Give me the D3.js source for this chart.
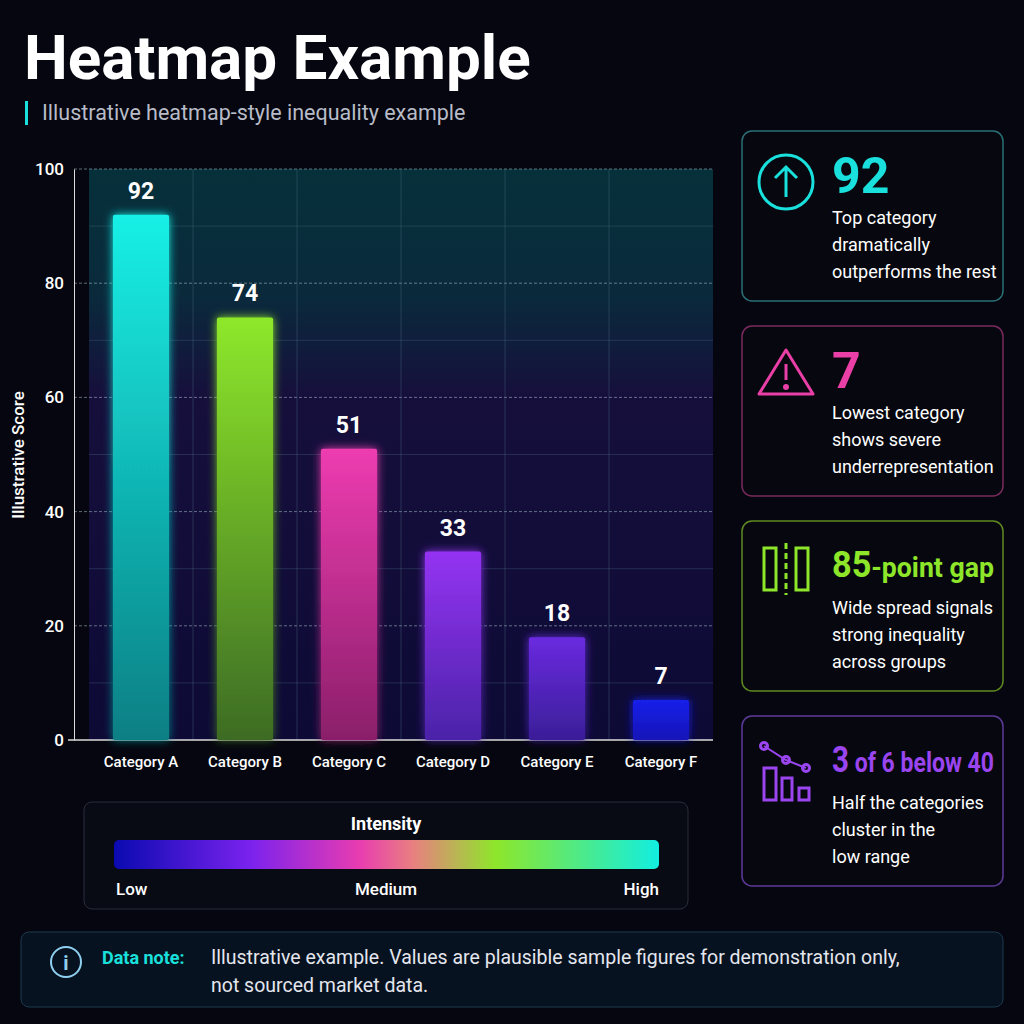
<!DOCTYPE html>
<html><head><meta charset="utf-8">
<script src="https://cdn.jsdelivr.net/npm/d3@7"></script>
<style>body{margin:0;background:#05060f}svg{display:block}</style>
</head><body><svg id="chart" width="1024" height="1024"></svg>
<script>
const categories = ["Category A","Category B","Category C","Category D","Category E","Category F"];
const values = [92, 74, 51, 33, 18, 7];
const barTop = ["#16f0e6","#8ee82a","#ee3cb0","#9433f2","#6a2ae0","#1520e8"];
const barBottom = ["#0c7f84","#3d6b24","#8a1f6a","#4a23a8","#3a1e98","#1414b8"];
const yTicks = [0,20,40,60,80,100];

const cards = [
  {big:"92", small:"", lines:["Top category","dramatically","outperforms the rest"], color:"#19e0dc", border:"#2a6f76", icon:"up"},
  {big:"7", small:"", lines:["Lowest category","shows severe","underrepresentation"], color:"#e93fa6", border:"#7a2a5e", icon:"warn"},
  {big:"85", small:"-point gap", lines:["Wide spread signals","strong inequality","across groups"], color:"#8ee62a", border:"#5f8a22", icon:"gap"},
  {big:"3", small:" of 6 below 40", lines:["Half the categories","cluster in the","low range"], color:"#9a45f0", border:"#5d3a9a", icon:"trend"}
];

const svg = d3.select("#chart");
const defs = svg.append("defs");
const font = "Roboto, 'DejaVu Sans', sans-serif";

svg.append("rect").attr("width",1024).attr("height",1024).attr("fill","#05060f");

// title
svg.append("text").attr("x",24).attr("y",79).attr("fill","#fff")
  .attr("font-family",font).attr("font-weight",700).attr("font-size",62).text("Heatmap Example");
svg.append("rect").attr("x",25).attr("y",101).attr("width",3).attr("height",24).attr("fill","#19e0dc");
svg.append("text").attr("x",42).attr("y",120).attr("fill","#b8bcc8")
  .attr("font-family",font).attr("font-size",21.5).text("Illustrative heatmap-style inequality example");

// scales
const x = d3.scaleBand().domain(categories).range([89, 713]).paddingInner(0.46).paddingOuter(0.23);
const y = d3.scaleLinear().domain([0,100]).range([740,169]);

// plot background
const bg = defs.append("linearGradient").attr("id","bg").attr("x1",0).attr("y1",0).attr("x2",0).attr("y2",1);
bg.append("stop").attr("offset","0%").attr("stop-color","#06303a");
bg.append("stop").attr("offset","22%").attr("stop-color","#0a2a3c");
bg.append("stop").attr("offset","40%").attr("stop-color","#160f3c");
bg.append("stop").attr("offset","100%").attr("stop-color","#0d0a36");
svg.append("rect").attr("x",89).attr("y",y(100)).attr("width",624).attr("height",y(0)-y(100)).attr("fill","url(#bg)");

// grid
const g = svg.append("g");
g.selectAll(".minor").data(d3.range(10,100,20)).join("line")
  .attr("x1",89).attr("x2",713).attr("y1",d=>y(d)).attr("y2",d=>y(d))
  .attr("stroke","#4a6a80").attr("stroke-opacity",0.35);
g.selectAll(".major").data(yTicks.slice(1)).join("line")
  .attr("x1",74).attr("x2",713).attr("y1",d=>y(d)).attr("y2",d=>y(d))
  .attr("stroke","#9ab0c0").attr("stroke-opacity",0.6).attr("stroke-dasharray","3,2");
g.selectAll(".vert").data(categories.slice(1)).join("line")
  .attr("x1",d=>x(d)-x.step()*x.paddingInner()/2).attr("x2",d=>x(d)-x.step()*x.paddingInner()/2)
  .attr("y1",y(100)).attr("y2",y(0)).attr("stroke","#4a6a80").attr("stroke-opacity",0.4);

// y axis
const yAxis = svg.append("g").attr("transform","translate(74,0)")
  .call(d3.axisLeft(y).tickValues(yTicks).tickSize(0).tickPadding(10));
yAxis.select(".domain").attr("stroke","#ddd");
yAxis.selectAll("text").attr("fill","#fff").attr("font-family",font).attr("font-weight",500).attr("font-size",17);
svg.append("line").attr("x1",68).attr("x2",713).attr("y1",y(0)).attr("y2",y(0)).attr("stroke","#ddd").attr("stroke-width",1.5);
svg.append("text").attr("transform","translate(24,455) rotate(-90)").attr("text-anchor","middle")
  .attr("fill","#fff").attr("font-family",font).attr("font-weight",500).attr("font-size",17).text("Illustrative Score");

// x axis labels
const xAxis = svg.append("g").attr("transform",`translate(0,${y(0)})`)
  .call(d3.axisBottom(x).tickSize(0).tickPadding(16));
xAxis.select(".domain").remove();
xAxis.selectAll("text").attr("fill","#fff").attr("font-family",font).attr("font-weight",500).attr("font-size",15);

// bars
const glow = defs.append("filter").attr("id","glow").attr("x","-50%").attr("y","-50%").attr("width","200%").attr("height","200%");
glow.append("feGaussianBlur").attr("stdDeviation",5).attr("result","b");
const fm = glow.append("feMerge"); fm.append("feMergeNode").attr("in","b"); fm.append("feMergeNode").attr("in","SourceGraphic");
categories.forEach((c,i)=>{
  const lg = defs.append("linearGradient").attr("id","bar"+i).attr("x1",0).attr("y1",0).attr("x2",0).attr("y2",1);
  lg.append("stop").attr("offset","0%").attr("stop-color",barTop[i]);
  lg.append("stop").attr("offset","100%").attr("stop-color",barBottom[i]);
});
svg.append("g").selectAll("rect").data(values).join("rect")
  .attr("x",(d,i)=>x(categories[i])).attr("width",x.bandwidth())
  .attr("y",d=>y(d)).attr("height",d=>y(0)-y(d)).attr("rx",2)
  .attr("fill",(d,i)=>`url(#bar${i})`).attr("filter","url(#glow)");
svg.append("g").selectAll("text").data(values).join("text")
  .attr("x",(d,i)=>x(categories[i])+x.bandwidth()/2).attr("y",d=>y(d)-16)
  .attr("text-anchor","middle").attr("fill","#fff").attr("font-family",font)
  .attr("font-weight",700).attr("font-size",23).text(d=>d);

// intensity legend
svg.append("rect").attr("x",84).attr("y",802).attr("width",604).attr("height",107).attr("rx",8)
  .attr("fill","#080a14").attr("stroke","#2a2e3c");
svg.append("text").attr("x",386).attr("y",830).attr("text-anchor","middle").attr("fill","#fff")
  .attr("font-family",font).attr("font-weight",700).attr("font-size",18).text("Intensity");
const lgd = defs.append("linearGradient").attr("id","leg");
[["0%","#0a0ab0"],["25%","#7a22ee"],["45%","#e83cb0"],["55%","#e88080"],["70%","#8ee62a"],["100%","#12eee0"]]
  .forEach(s=>lgd.append("stop").attr("offset",s[0]).attr("stop-color",s[1]));
svg.append("rect").attr("x",114).attr("y",840).attr("width",545).attr("height",29).attr("rx",5).attr("fill","url(#leg)");
[["Low",116,"start"],["Medium",386,"middle"],["High",659,"end"]].forEach(t=>
  svg.append("text").attr("x",t[1]).attr("y",895).attr("text-anchor",t[2]).attr("fill","#fff")
    .attr("font-family",font).attr("font-weight",500).attr("font-size",17).text(t[0]));

// cards
cards.forEach((c,i)=>{
  const top = 131 + i*195;
  const cg = svg.append("g").attr("transform",`translate(742,${top})`);
  cg.append("rect").attr("width",261).attr("height",170).attr("rx",10).attr("fill","#07080f").attr("stroke",c.border).attr("stroke-width",1.5);
  const t = cg.append("text").attr("x",90).attr("y",62).attr("fill",c.color).attr("font-family",font).attr("font-weight",700);
  if (c.small) {
    t.attr("y",56).attr("textLength",162).attr("lengthAdjust","spacingAndGlyphs");
    t.append("tspan").attr("font-size",36).text(c.big);
    t.append("tspan").attr("font-size",28).text(c.small);
  } else {
    t.append("tspan").attr("font-size",50).text(c.big);
  }
  c.lines.forEach((l,j)=>cg.append("text").attr("x",90).attr("y",93+j*27).attr("fill","#fff")
    .attr("font-family",font).attr("font-size",18).text(l));
  const ic = cg.append("g").attr("fill","none").attr("stroke",c.color).attr("stroke-width",3);
  if (c.icon==="up") {
    ic.append("circle").attr("cx",44).attr("cy",51).attr("r",27);
    ic.append("path").attr("d","M44 66V36M33 47L44 36L55 47");
  } else if (c.icon==="warn") {
    ic.append("path").attr("d","M44 24L71 68H17Z").attr("stroke-linejoin","round");
    ic.append("path").attr("d","M44 38V54");
    ic.append("circle").attr("cx",44).attr("cy",61).attr("r",1.5).attr("fill",c.color);
  } else if (c.icon==="gap") {
    ic.append("rect").attr("x",22).attr("y",27).attr("width",12).attr("height",42);
    ic.append("rect").attr("x",54).attr("y",27).attr("width",12).attr("height",42);
    ic.append("path").attr("d","M44 22V74").attr("stroke-dasharray","6,4");
  } else {
    ic.append("rect").attr("x",22).attr("y",52).attr("width",12).attr("height",32);
    ic.append("rect").attr("x",40).attr("y",62).attr("width",10).attr("height",22);
    ic.append("rect").attr("x",57).attr("y",72).attr("width",10).attr("height",12);
    ic.append("path").attr("d","M22 30L44 44L64 52").attr("stroke-width",2);
    [[22,30],[44,44],[64,52]].forEach(p=>ic.append("circle").attr("cx",p[0]).attr("cy",p[1]).attr("r",3.5));
  }
});

// data note
svg.append("rect").attr("x",21).attr("y",932).attr("width",982).attr("height",75).attr("rx",8)
  .attr("fill","#071220").attr("stroke","#1d3a4e");
svg.append("circle").attr("cx",66).attr("cy",962).attr("r",15).attr("fill","none").attr("stroke","#8fd0f0").attr("stroke-width",2);
svg.append("text").attr("x",66).attr("y",970).attr("text-anchor","middle").attr("fill","#8fd0f0")
  .attr("font-family",font).attr("font-weight",700).attr("font-size",20).text("i");
svg.append("text").attr("x",102).attr("y",964).attr("fill","#19e0dc").attr("font-family",font)
  .attr("font-weight",700).attr("font-size",18).text("Data note:");
["Illustrative example. Values are plausible sample figures for demonstration only,","not sourced market data."]
  .forEach((l,j)=>svg.append("text").attr("x",211).attr("y",964+j*28).attr("fill","#e4e6ee")
    .attr("font-family",font).attr("font-size",19.5).text(l));
</script></body></html>
